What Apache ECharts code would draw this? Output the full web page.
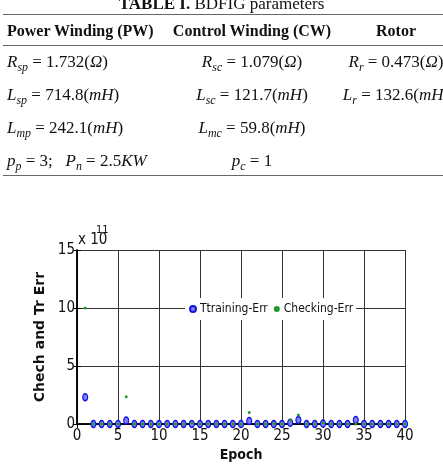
<!DOCTYPE html>
<html>
<head>
<meta charset="utf-8">
<script src="https://cdn.jsdelivr.net/npm/echarts@6/dist/echarts.min.js"></script>
<style>
  html, body { margin: 0; padding: 0; background: #fff; }
  body { width: 443px; height: 471px; overflow: hidden; position: relative; }
  #main { position: absolute; left: 0; top: 0; width: 443px; height: 471px; }
  .tbl { position: absolute; left: 0; top: 0; width: 443px; height: 190px; z-index: 2;
         font-family: 'Liberation Serif', 'Times New Roman', serif; color: #111; }
  .rule { position: absolute; left: 3px; width: 440px; height: 0; border-top: 1.5px solid #666; }
  .cell { position: absolute; white-space: nowrap; font-size: 17px; line-height: 20px; }
  .c1 { left: 7px; }
  .c2 { left: 152px; width: 200px; text-align: center; }
  .c3 { left: 296px; width: 200px; text-align: center; }
  .hd { font-weight: bold; font-size: 16px; }
  sub { font-size: 0.7em; font-style: italic; vertical-align: -0.3em; line-height: 0; }
  .title { position: absolute; left: 0; width: 443px; top: -6px; text-align: center; font-size: 17px; }
</style>
</head>
<body>
<div class="tbl">
  <div class="title"><b>TABLE I.</b> BDFIG parameters</div>
  <div class="rule" style="top:14px"></div>
  <div class="cell hd c1" style="top:21px">Power Winding (PW)</div>
  <div class="cell hd c2" style="top:21px">Control Winding (CW)</div>
  <div class="cell hd c3" style="top:21px">Rotor</div>
  <div class="rule" style="top:45px"></div>

  <div class="cell c1" style="top:52px"><i>R</i><sub>sp</sub> = 1.732(<i>Ω</i>)</div>
  <div class="cell c2" style="top:52px"><i>R</i><sub>sc</sub> = 1.079(<i>Ω</i>)</div>
  <div class="cell c3" style="top:52px"><i>R</i><sub>r</sub> = 0.473(<i>Ω</i>)</div>

  <div class="cell c1" style="top:85px"><i>L</i><sub>sp</sub> = 714.8(<i>mH</i>)</div>
  <div class="cell c2" style="top:85px"><i>L</i><sub>sc</sub> = 121.7(<i>mH</i>)</div>
  <div class="cell c3" style="top:85px"><i>L</i><sub>r</sub> = 132.6(<i>mH</i>)</div>

  <div class="cell c1" style="top:118px"><i>L</i><sub>mp</sub> = 242.1(<i>mH</i>)</div>
  <div class="cell c2" style="top:118px"><i>L</i><sub>mc</sub> = 59.8(<i>mH</i>)</div>

  <div class="cell c1" style="top:151px"><i>p</i><sub>p</sub> = 3;&nbsp;&nbsp;&nbsp;<i>P</i><sub>n</sub> = 2.5<i>KW</i></div>
  <div class="cell c2" style="top:151px"><i>p</i><sub>c</sub> = 1</div>
  <div class="rule" style="top:175px"></div>
</div>
<div id="main"></div>
<script>
// epochs 1..40, errors in units of 1e11
const epochs = [1,2,3,4,5,6,7,8,9,10,11,12,13,14,15,16,17,18,19,20,
                21,22,23,24,25,26,27,28,29,30,31,32,33,34,35,36,37,38,39,40]
const trainingErr = [2.3,0,0,0,0,0.3,0,0,0,0,0,0,0,0,0,0,0,0,0,0,
                     0.25,0,0,0,0,0.1,0.35,0,0,0.05,0,0,0,0.35,0,0,0,0,0,0]
const checkingErr = [10.0,0,0,0,0,2.35,0,0,0,0,0,0,0,0.1,0,0,0,0,0,0,
                     1.0,0,0,0.05,0,0.35,0.78,0,0,0.1,0,0,0,0,0,0,0,0,0,0]
const xTicks = [0, 40, 5]
const yTicks = [0, 15, 5]

const pairs = (vals) => epochs.map((e, i) => [e, vals[i]])
const narrow = "'Liberation Sans Narrow', 'DejaVu Sans Condensed', sans-serif"

var myChart = echarts.init(document.getElementById('main'))
myChart.setOption({
    animation: false,
    grid: { left: 77, right: 38, top: 250, bottom: 47 },
    legend: {
        left: 185, top: 298,
        backgroundColor: '#fff',
        padding: [5, 3, 5, 4],
        itemGap: 6, itemWidth: 6, itemHeight: 6,
        textStyle: { fontFamily: narrow, fontSize: 12, color: '#111', padding: [0, 0, 0, -1] },
        data: ['Ttraining-Err', 'Checking-Err']
    },
    graphic: [
        { type: 'text', left: 78, top: 233, style: { text: 'x 10', font: '15px ' + narrow, fill: '#111' } },
        { type: 'text', left: 96, top: 225, style: { text: '11', font: '11px ' + narrow, fill: '#111' } }
    ],
    xAxis: [{
        type: 'value', min: xTicks[0], max: xTicks[1], interval: xTicks[2],
        name: 'Epoch', nameLocation: 'middle', nameGap: 24,
        nameTextStyle: { fontFamily: narrow, fontSize: 14, fontWeight: 'bold', color: '#111' },
        axisLine: { lineStyle: { color: '#000', width: 1.5 } },
        axisTick: { inside: true, length: 4, lineStyle: { color: '#000' } },
        axisLabel: { fontFamily: narrow, fontSize: 15, color: '#111', margin: 5 },
        splitLine: { show: true, lineStyle: { color: '#333', width: 1 } }
    }, {
        type: 'value', position: 'top', min: xTicks[0], max: xTicks[1], interval: xTicks[2],
        axisLine: { show: true, lineStyle: { color: '#000', width: 1.5 } },
        axisTick: { inside: true, length: 4, lineStyle: { color: '#000' } },
        axisLabel: { show: false },
        splitLine: { show: false }
    }],
    yAxis: [{
        type: 'value', min: yTicks[0], max: yTicks[1], interval: yTicks[2],
        name: 'Chech and Tr Err', nameLocation: 'middle', nameGap: 20,
        nameTextStyle: { fontFamily: 'DejaVu Sans', fontSize: 14, fontWeight: 'bold', color: '#111' },
        axisLine: { show: true, lineStyle: { color: '#000', width: 1.5 } },
        axisTick: { show: true, inside: true, length: 4, lineStyle: { color: '#000' } },
        axisLabel: { fontFamily: narrow, fontSize: 15, color: '#111', margin: 2 },
        splitLine: { show: true, lineStyle: { color: '#333', width: 1 } }
    }, {
        type: 'value', position: 'right', min: yTicks[0], max: yTicks[1], interval: yTicks[2],
        axisLine: { show: true, lineStyle: { color: '#000', width: 1.5 } },
        axisTick: { show: true, inside: true, length: 4, lineStyle: { color: '#000' } },
        axisLabel: { show: false },
        splitLine: { show: false }
    }],
    series: [{
        name: 'Ttraining-Err', type: 'scatter',
        symbol: 'circle', symbolSize: [5, 7],
        itemStyle: { color: '#8080ff', borderColor: '#1515dd', borderWidth: 1.3, opacity: 1 },
        data: pairs(trainingErr)
    }, {
        name: 'Checking-Err', type: 'scatter',
        symbol: 'circle', symbolSize: 3,
        itemStyle: { color: '#1f9a2a', opacity: 1 },
        data: pairs(checkingErr)
    }]
})
</script>
</body>
</html>
